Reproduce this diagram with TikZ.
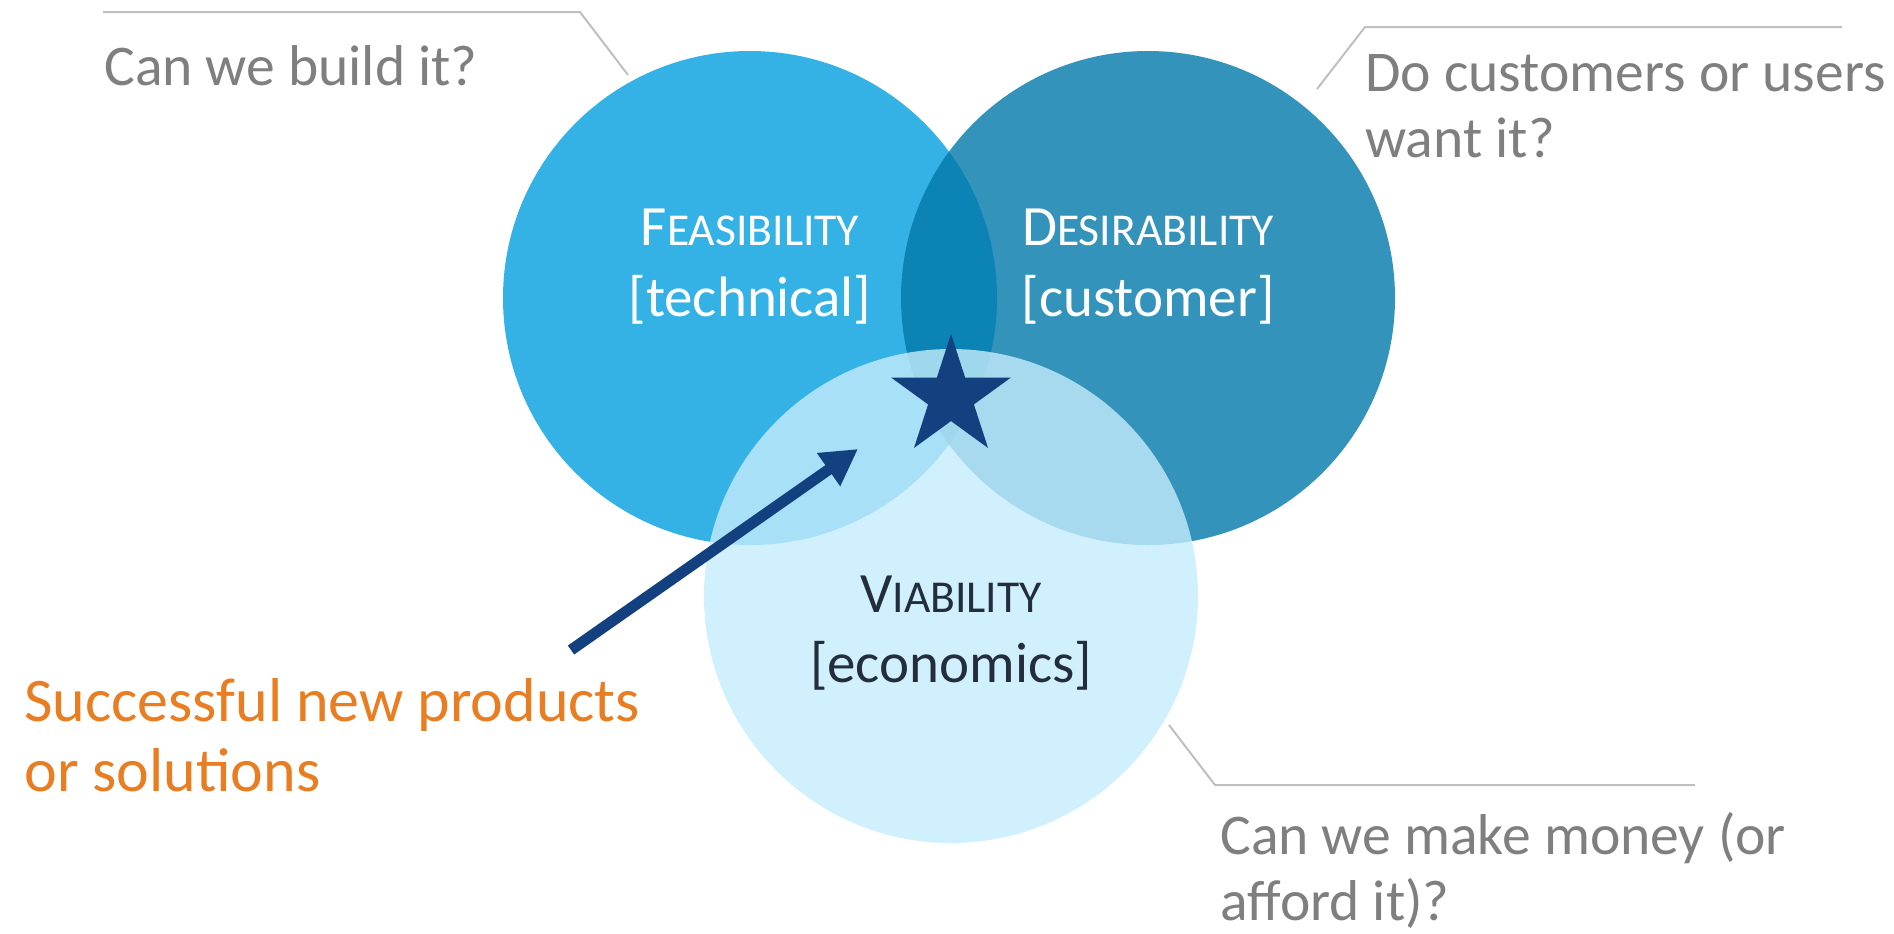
\documentclass[tikz,border=0pt]{standalone}
\usepackage{fontspec}
\setmainfont{Carlito}
\usetikzlibrary{arrows.meta,shapes.geometric}
\definecolor{feascol}{RGB}{53,178,229}
\definecolor{desicol}{RGB}{1,120,169}
\definecolor{viabcol}{RGB}{196,236,252}
\definecolor{navy}{RGB}{19,65,128}
\definecolor{qgray}{RGB}{127,127,127}
\definecolor{leadgray}{RGB}{191,191,191}
\definecolor{orangetxt}{RGB}{233,125,34}
\definecolor{darktxt}{RGB}{35,45,60}
\newcommand\fakesc[2]{{\fontsize{28.5}{34}\selectfont #1}{\fontsize{22.8}{34}\selectfont #2}}
\begin{document}
\begin{tikzpicture}[x=0.5pt,y=-0.5pt,
  venn/.style={circle, inner sep=0pt, minimum size=247pt},
  leader/.style={draw=leadgray, line width=1pt},
  qtext/.style={text=qgray, inner sep=0pt, anchor=base west, align=left, font=\fontsize{28.8}{33}\selectfont},
  succtext/.style={text=orangetxt, inner sep=0pt, anchor=base west, align=left, font=\fontsize{31}{35}\selectfont},
  vlabel/.style={inner sep=0pt, anchor=base, font=\fontsize{28.5}{34}\selectfont}]
\useasboundingbox (0,0) rectangle (1894,933);
% circles
\node[venn, fill=feascol] (feas) at (750,298) {};
\node[venn, fill=desicol, fill opacity=0.8] (desi) at (1148,298) {};
\node[venn, fill=viabcol, fill opacity=0.8] (viab) at (951,596) {};
% labels in circles
\node[vlabel, text=white] (feasT) at (750,245) {\fakesc{F}{EASIBILITY}};
\node[vlabel, text=white] (feasS) at (750,316) {[technical]};
\node[vlabel, text=white] (desiT) at (1148,245) {\fakesc{D}{ESIRABILITY}};
\node[vlabel, text=white] (desiS) at (1148,316) {[customer]};
\node[vlabel, text=darktxt] (viabT) at (951,612) {\fakesc{V}{IABILITY}};
\node[vlabel, text=darktxt] (viabS) at (951,682) {[economics]};
% star
\node[star, star points=5, star point ratio=2.618, minimum size=63pt, inner sep=0pt, fill=navy] (star) at (951,397) {};
% arrow
\coordinate (atail) at (571,650);
\coordinate (atip) at (858,449);
\draw[navy, line width=5.5pt, -{Triangle[length=18pt,width=19pt]}] (atail) -- (atip);
% leader lines
\coordinate (l1a) at (103,12);
\coordinate (l1b) at (580,12);
\coordinate (l1c) at (628,75);
\draw[leader] (l1a) -- (l1b) -- (l1c);
\coordinate (l2a) at (1842,27);
\coordinate (l2b) at (1365,27);
\coordinate (l2c) at (1317,89);
\draw[leader] (l2a) -- (l2b) -- (l2c);
\coordinate (l3a) at (1169,725);
\coordinate (l3b) at (1215,785);
\coordinate (l3c) at (1695,785);
\draw[leader] (l3a) -- (l3b) -- (l3c);
% texts
\node[qtext] (q1) at (104,85) {Can we build it?};
\node[qtext] (q2) at (1365,157) {Do customers or users\\want it?};
\node[qtext] (q3) at (1220,920) {Can we make money (or\\afford it)?};
\node[succtext] (succ) at (24,791) {Successful new products\\or solutions};
\end{tikzpicture}
\end{document}
